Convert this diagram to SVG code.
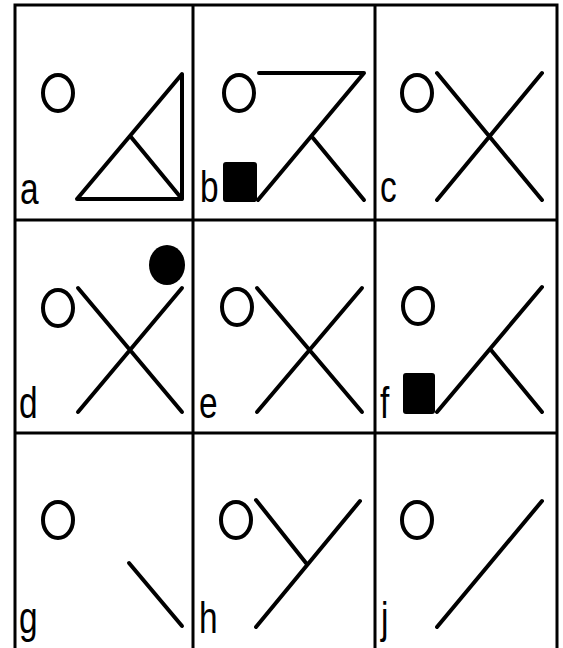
<svg xmlns="http://www.w3.org/2000/svg" width="563" height="648" viewBox="0 0 563 648">
<style>
.grid{stroke:#000;stroke-width:3;fill:none}
.ln{stroke:#000;stroke-width:4;stroke-linecap:round;stroke-linejoin:round;fill:none}
.o{stroke:#000;stroke-width:4;fill:none}
.lbl{font-family:"Liberation Sans",Arial,sans-serif;font-size:44px;fill:#000}
</style>
<rect width="563" height="648" fill="#fff"/>
<g id="grid">
<path class="grid" d="M15,660 V5 H557 V660"/>
<path class="grid" stroke-width="2.5" d="M193,5 V660 M375,5 V660 M15,220 H557 M15,433 H557"/>
</g>
<g id="panel-a">
<ellipse class="o" cx="58" cy="93" rx="15" ry="18"/>
<path class="ln" d="M77,199 L182,74 L182,199 Z M131,137 L182,199"/>
<text class="lbl" transform="translate(20,204) scale(0.76,1)">a</text>
</g>
<g id="panel-b">
<ellipse class="o" cx="239" cy="93" rx="15" ry="18"/>
<path class="ln" d="M259,73 H364 L258,200 M313,138 L364,200"/>
<rect x="223" y="162" width="34" height="40" rx="3" fill="#000"/>
<text class="lbl" transform="translate(200,202) scale(0.76,1)">b</text>
</g>
<g id="panel-c">
<ellipse class="o" cx="417" cy="93" rx="15" ry="18"/>
<path class="ln" d="M437,73 L542,200 M542,73 L437,200"/>
<text class="lbl" transform="translate(380,202) scale(0.76,1)">c</text>
</g>
<g id="panel-d">
<ellipse cx="167" cy="265" rx="18" ry="20" fill="#000"/>
<ellipse class="o" cx="58" cy="308" rx="15" ry="18"/>
<path class="ln" d="M78,288 L182,412 M182,288 L78,412"/>
<text class="lbl" transform="translate(19,418) scale(0.76,1)">d</text>
</g>
<g id="panel-e">
<ellipse class="o" cx="237" cy="307" rx="15" ry="18"/>
<path class="ln" d="M257,288 L362,412 M362,288 L257,412"/>
<text class="lbl" transform="translate(199,418) scale(0.76,1)">e</text>
</g>
<g id="panel-f">
<ellipse class="o" cx="418" cy="306" rx="15" ry="18"/>
<path class="ln" d="M437,412 L542,287 M491,350 L542,412"/>
<rect x="403" y="373" width="32" height="41" rx="3" fill="#000"/>
<text class="lbl" transform="translate(380,418) scale(0.76,1)">f</text>
</g>
<g id="panel-g">
<ellipse class="o" cx="58" cy="520" rx="15" ry="18"/>
<path class="ln" d="M129,563 L182,626"/>
<text class="lbl" transform="translate(19,633) scale(0.76,1)">g</text>
</g>
<g id="panel-h">
<ellipse class="o" cx="236" cy="520" rx="15" ry="18"/>
<path class="ln" d="M256,500 L306,563 M360,501 L256,627"/>
<text class="lbl" transform="translate(199,633) scale(0.76,1)">h</text>
</g>
<g id="panel-j">
<ellipse class="o" cx="417" cy="520" rx="15" ry="18"/>
<path class="ln" d="M542,501 L437,627"/>
<text class="lbl" transform="translate(381,633) scale(0.76,1)">j</text>
</g>
</svg>
